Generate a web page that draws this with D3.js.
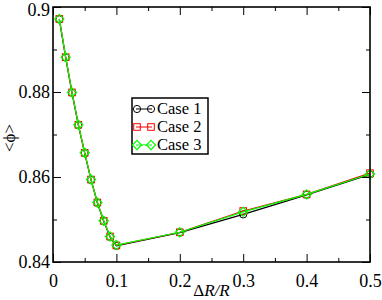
<!DOCTYPE html>
<html>
<head>
<meta charset="utf-8">
<script src="https://cdn.jsdelivr.net/npm/d3@7"></script>
<style>
  html, body { margin: 0; padding: 0; background: #fff; }
  svg { display: block; }
  svg text { font-family: "Liberation Serif", "Times New Roman", "DejaVu Serif", serif !important; }
</style>
</head>
<body>
<svg id="chart" width="382" height="300"></svg>
<script>
// data
const dr = [0.01, 0.02, 0.03, 0.04, 0.05, 0.06, 0.07, 0.08, 0.09, 0.1, 0.2, 0.3, 0.4, 0.5];
const case1 = [0.8971, 0.8881, 0.8798, 0.8722, 0.8656, 0.8593, 0.8539, 0.8496, 0.8459, 0.8438, 0.8469, 0.8512, 0.8558, 0.8606];
const case2 = [0.8972, 0.8882, 0.8799, 0.8723, 0.8657, 0.8594, 0.8540, 0.8497, 0.8460, 0.8439, 0.8470, 0.8520, 0.8559, 0.8609];
const case3 = [0.8972, 0.8882, 0.8799, 0.8723, 0.8657, 0.8594, 0.8540, 0.8497, 0.8460, 0.8440, 0.8470, 0.8518, 0.8559, 0.8607];
const seriesNames = ["Case 1", "Case 2", "Case 3"];
const xTicks = [0, 0.1, 0.2, 0.3, 0.4, 0.5];
const yTicks = [0.84, 0.86, 0.88, 0.9];

(function () {
const m = { left: 53, right: 12, top: 7, bottom: 38 };
const W = 382, H = 300;
const svg = d3.select("#chart");

const x = d3.scaleLinear().domain([0, 0.5]).range([m.left, W - m.right]);
const y = d3.scaleLinear().domain([0.84, 0.9]).range([H - m.bottom, m.top]);

const series = [
  { name: seriesNames[0], vals: case1, color: "#000", shape: "circle" },
  { name: seriesNames[1], vals: case2, color: "#ff0000", shape: "square" },
  { name: seriesNames[2], vals: case3, color: "#00ff00", shape: "diamond" }
];

function marker(g, shape, color, cx, cy) {
  if (shape === "circle") {
    g.append("circle").attr("cx", cx).attr("cy", cy).attr("r", 3.6)
      .attr("fill", "none").attr("stroke", color).attr("stroke-width", 1);
  } else if (shape === "square") {
    g.append("rect").attr("x", cx - 3.3).attr("y", cy - 3.3).attr("width", 6.6).attr("height", 6.6)
      .attr("fill", "none").attr("stroke", color).attr("stroke-width", 1);
  } else {
    g.append("path").attr("d", `M${cx},${cy - 4.6}L${cx + 4.6},${cy}L${cx},${cy + 4.6}L${cx - 4.6},${cy}Z`)
      .attr("fill", "none").attr("stroke", color).attr("stroke-width", 1.2);
  }
}

const line = d3.line().x(d => x(d[0])).y(d => y(d[1]));

series.forEach(s => {
  const pts = dr.map((v, i) => [v, s.vals[i]]);
  const g = svg.append("g");
  g.append("path").datum(pts).attr("d", line)
    .attr("fill", "none").attr("stroke", s.color).attr("stroke-width", 1.2);
  pts.forEach(p => marker(g, s.shape, s.color, x(p[0]), y(p[1])));
});

// axes with inward ticks
const fs = 18;
svg.append("g").attr("transform", `translate(0,${H - m.bottom})`)
  .call(d3.axisBottom(x).tickValues(xTicks).tickSize(-8).tickPadding(12).tickFormat(d3.format("")));
svg.append("g").attr("transform", `translate(0,${m.top})`)
  .call(d3.axisTop(x).tickValues(xTicks).tickSize(-8).tickFormat(""));
const xMinor = [0.05, 0.15, 0.25, 0.35, 0.45];
svg.append("g").attr("transform", `translate(0,${H - m.bottom})`)
  .call(d3.axisBottom(x).tickValues(xMinor).tickSize(-4).tickFormat(""));
svg.append("g").attr("transform", `translate(0,${m.top})`)
  .call(d3.axisTop(x).tickValues(xMinor).tickSize(-4).tickFormat(""));

svg.append("g").attr("transform", `translate(${m.left},0)`)
  .call(d3.axisLeft(y).tickValues(yTicks).tickSize(-8).tickPadding(3).tickFormat(d3.format("")));
svg.append("g").attr("transform", `translate(${W - m.right},0)`)
  .call(d3.axisRight(y).tickValues(yTicks).tickSize(-8).tickFormat(""));
const yMinor = [0.85, 0.87, 0.89];
svg.append("g").attr("transform", `translate(${m.left},0)`)
  .call(d3.axisLeft(y).tickValues(yMinor).tickSize(-4).tickFormat(""));
svg.append("g").attr("transform", `translate(${W - m.right},0)`)
  .call(d3.axisRight(y).tickValues(yMinor).tickSize(-4).tickFormat(""));

svg.selectAll(".domain").remove();
svg.selectAll(".tick line").attr("stroke", "#000").attr("stroke-width", 1);
svg.selectAll(".tick text").attr("font-size", fs).attr("fill", "#000");
// keep the top label inside the picture
svg.selectAll(".tick text").filter(d => d === 0.9).attr("dy", "0.45em");

svg.append("rect").attr("x", m.left).attr("y", m.top)
  .attr("width", W - m.left - m.right).attr("height", H - m.top - m.bottom)
  .attr("fill", "none").attr("stroke", "#000").attr("stroke-width", 1.6);

// axis titles
svg.append("text").attr("transform", "translate(15,138) rotate(-90)")
  .attr("text-anchor", "middle").attr("font-size", 17).text("<\u03D5>");
const xl = svg.append("text").attr("x", x(0.25)).attr("y", 296)
  .attr("text-anchor", "middle").attr("font-size", 17);
xl.append("tspan").text("\u0394");
xl.append("tspan").attr("font-style", "italic").text("R/R");

// legend
const lg = svg.append("g").attr("transform", "translate(132,98)");
lg.append("rect").attr("width", 76).attr("height", 56)
  .attr("fill", "#fff").attr("stroke", "#000").attr("stroke-width", 1.5);
series.forEach((s, i) => {
  const cy = 11 + i * 18;
  lg.append("line").attr("x1", 4).attr("x2", 20).attr("y1", cy).attr("y2", cy)
    .attr("stroke", s.color).attr("stroke-width", 1);
  marker(lg, s.shape, s.color, 5, cy);
  marker(lg, s.shape, s.color, 19, cy);
  lg.append("text").attr("x", 25).attr("y", cy + 5).attr("font-size", 16.5).text(s.name);
});
})();
</script>
</body>
</html>
